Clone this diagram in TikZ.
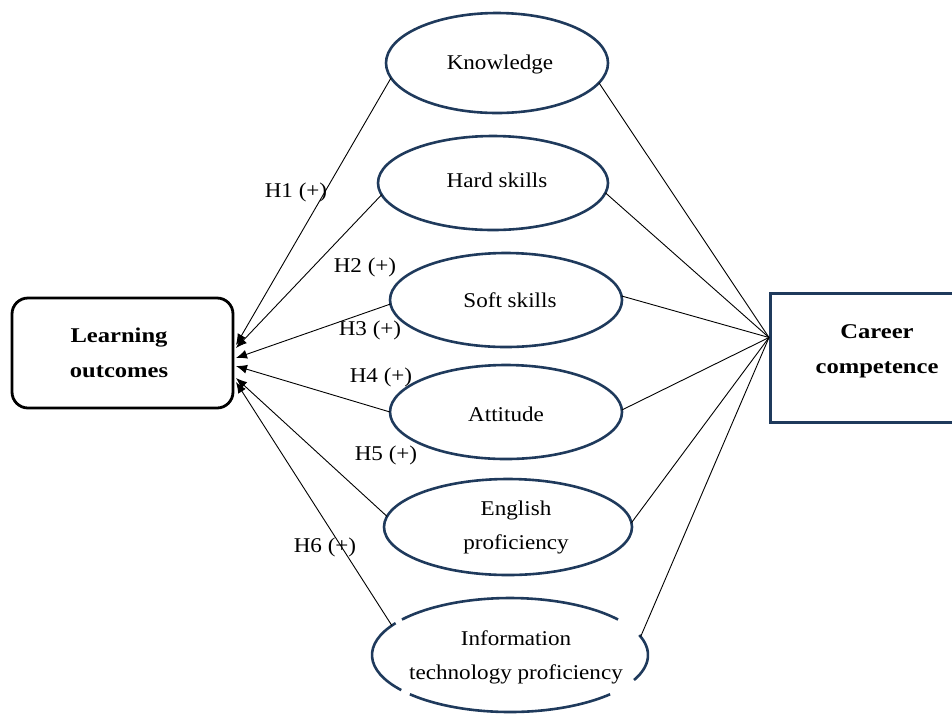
\documentclass[tikz,border=0pt]{standalone}
\usepackage{fontspec}
\setmainfont{Liberation Serif}[FakeStretch=1.1,BoldFeatures={FakeStretch=1.17}]
\usetikzlibrary{shapes.geometric,arrows.meta,calc}
\definecolor{navy}{HTML}{1F3A5C}
\tikzset{
  ell/.style={ellipse,draw=navy,line width=2.6pt,inner sep=0pt,outer sep=0pt},
  ellnd/.style={ellipse,inner sep=0pt,outer sep=0pt},
  txt/.style={font=\fontsize{21}{34}\selectfont,align=center,inner sep=0pt},
  btxt/.style={font=\fontsize{21}{35}\selectfont\bfseries,align=center,inner sep=0pt},
  arr/.style={line width=0.9pt,-{Latex[length=11pt,width=9pt]}},
  ln/.style={line width=0.9pt},
  lbl/.style={font=\fontsize{21}{24}\selectfont,inner sep=0pt}
}
\begin{document}
\begin{tikzpicture}[x=1pt,y=1pt]
\useasboundingbox (0,0) rectangle (952,-716);
% boxes
\node[draw=black,line width=2.8pt,rounded corners=16pt,minimum width=221pt,minimum height=110pt,inner sep=0pt,outer sep=0pt] (lo) at (122.5,-353) {};
\node[btxt] (lot) at (119,-353) {Learning\\outcomes};
\node[draw=navy,line width=3pt,minimum width=185pt,minimum height=129pt,inner sep=0pt,outer sep=0pt] (cc) at (862.5,-357.5) {};
\node[btxt] (cct) at (877,-351) {Career\\competence};
% ellipses
\node[ell,minimum width=222pt,minimum height=100pt] (k) at (497,-63) {};
\node[txt] at (500,-64) {Knowledge};
\node[ell,minimum width=230pt,minimum height=94pt] (h) at (493,-183) {};
\node[txt] at (497,-180) {Hard skills};
\node[ell,minimum width=232pt,minimum height=94pt] (s) at (506,-300) {};
\node[txt] at (510,-300) {Soft skills};
\node[ell,minimum width=232pt,minimum height=94pt] (a) at (506,-412) {};
\node[txt] at (506,-414) {Attitude};
\node[ell,minimum width=248pt,minimum height=96pt] (e) at (508,-527) {};
\node[txt] at (516,-527) {English\\proficiency};
\node[ellnd,minimum width=276pt,minimum height=114pt] (it) at (510,-655) {};
\node[txt] at (516,-657) {Information\\technology proficiency};
\begin{scope}[draw=navy,line width=2.6pt]
\draw ($(it.center)+(38.5:138 and 57)$) arc[start angle=38.5,end angle=141.5,x radius=138,y radius=57];
\draw ($(it.center)+(146:138 and 57)$) arc[start angle=146,end angle=218,x radius=138,y radius=57];
\draw ($(it.center)+(-26:138 and 57)$) arc[start angle=-26,end angle=20.5,x radius=138,y radius=57];
\draw ($(it.center)+(223.5:138 and 57)$) arc[start angle=223.5,end angle=316.5,x radius=138,y radius=57];
\end{scope}
% arrows to learning outcomes
\draw[arr] (k.188) -- ([xshift=3pt,yshift=8pt]lo.east);
\draw[arr] (h.186.6) -- ([xshift=3pt,yshift=5pt]lo.east);
\draw[arr] (s.182.5) -- ([xshift=3pt,yshift=-5pt]lo.east);
\draw[arr] (a.180) -- ([xshift=3pt,yshift=-13pt]lo.east);
\draw[arr] (e.175) -- ([xshift=3pt,yshift=-25pt]lo.east);
\draw[arr] (it.166.7) -- ([xshift=3pt,yshift=-29pt]lo.east);
% lines to career competence
\coordinate (cp) at ([xshift=-1pt,yshift=20pt]cc.west);
\draw[ln] (k.349) -- (cp);
\draw[ln] (h.355) -- (cp);
\draw[ln] (s.2.5) -- (cp);
\draw[ln] (a.1) -- (cp);
\draw[ln] (e.2) -- (cp);
\draw[ln] (it.8.7) -- (cp);
% labels
\node[lbl] (l1) at (296,-192) {H1 (+)};
\node[lbl] (l2) at (365,-267) {H2 (+)};
\node[lbl] (l3) at (370,-330) {H3 (+)};
\node[lbl] (l4) at (381,-377) {H4 (+)};
\node[lbl] (l5) at (386,-455) {H5 (+)};
\node[lbl] (l6) at (325,-547) {H6 (+)};
\end{tikzpicture}
\end{document}
